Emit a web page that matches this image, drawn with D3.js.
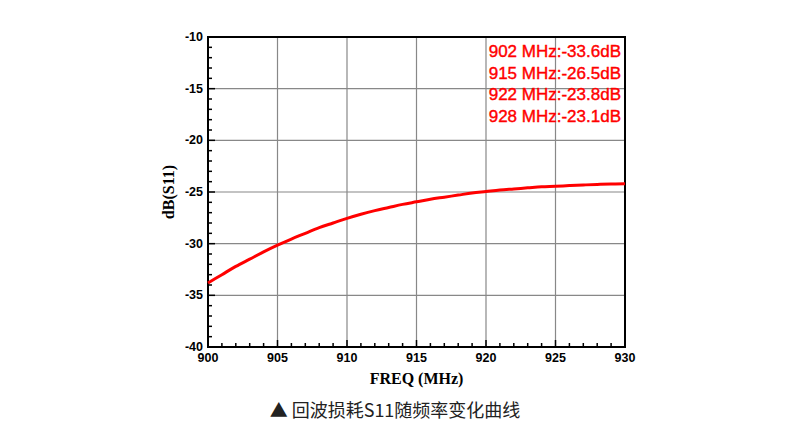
<!DOCTYPE html><html><head><meta charset="utf-8"><script src="https://cdn.jsdelivr.net/npm/d3@7"></script>
<style>body{margin:0;background:#fff}</style></head><body><svg id="c" width="790" height="440"></svg>
<script>
const freqs=[900,901,902,903,904,905,906,907,908,909,910,911,912,913,914,915,916,917,918,919,920,921,922,923,924,925,926,927,928,929,930];
const s11=[-33.8,-33.0,-32.2,-31.5,-30.8,-30.15,-29.55,-29.0,-28.45,-28.0,-27.55,-27.15,-26.8,-26.5,-26.2,-25.95,-25.7,-25.5,-25.3,-25.1,-24.95,-24.8,-24.7,-24.6,-24.5,-24.45,-24.38,-24.32,-24.27,-24.23,-24.2];
const xTicks=[900,905,910,915,920,925,930];
const yTicks=[-10,-15,-20,-25,-30,-35,-40];
const notes=["902 MHz:-33.6dB","915 MHz:-26.5dB","922 MHz:-23.8dB","928 MHz:-23.1dB"];
const svg=d3.select("#c");
const L=208,R=625,T=37,B=347;
const x=d3.scaleLinear().domain([900,930]).range([L,R]);
const y=d3.scaleLinear().domain([-40,-10]).range([B,T]);
const g=svg.append("g");
g.selectAll(".gx").data(xTicks).join("line").attr("x1",d=>x(d)).attr("x2",d=>x(d)).attr("y1",T).attr("y2",B).attr("stroke","#888").attr("stroke-width",1.2);
g.selectAll(".gy").data(yTicks).join("line").attr("y1",d=>y(d)).attr("y2",d=>y(d)).attr("x1",L).attr("x2",R).attr("stroke","#888").attr("stroke-width",1.2);
svg.append("rect").attr("x",L).attr("y",T).attr("width",R-L).attr("height",B-T).attr("fill","none").attr("stroke","#000").attr("stroke-width",2);
svg.append("g").selectAll("line").data(d3.range(900,931)).join("line").attr("x1",d=>x(d)).attr("x2",d=>x(d)).attr("y1",B).attr("y2",d=>B-(d%5===0?7:4)).attr("stroke","#000").attr("stroke-width",1.5);
svg.append("g").selectAll("line").data(d3.range(-40,-9)).join("line").attr("y1",d=>y(d)).attr("y2",d=>y(d)).attr("x1",L).attr("x2",d=>L+(d%5===0?7:4)).attr("stroke","#000").attr("stroke-width",1.5);
const tf="Liberation Sans, Arial, sans-serif";
svg.append("g").selectAll("text").data(xTicks).join("text").attr("x",d=>x(d)).attr("y",B+15).attr("text-anchor","middle").attr("font-family",tf).attr("font-weight","bold").attr("font-size",12.5).text(d=>d);
svg.append("g").selectAll("text").data(yTicks).join("text").attr("x",L-5).attr("y",d=>y(d)+4).attr("text-anchor","end").attr("font-family",tf).attr("font-weight","bold").attr("font-size",12.5).text(d=>d);
svg.append("text").attr("x",(L+R)/2).attr("y",B+37).attr("text-anchor","middle").attr("font-family","Liberation Serif, Times New Roman, serif").attr("font-weight","bold").attr("font-size",16).text("FREQ (MHz)");
svg.append("text").attr("transform",`translate(${L-34},${(T+B)/2}) rotate(-90)`).attr("text-anchor","middle").attr("font-family","Liberation Serif, Times New Roman, serif").attr("font-weight","bold").attr("font-size",16).text("dB(S11)");
svg.append("path").datum(freqs.map((f,i)=>[f,s11[i]])).attr("d",d3.line().x(d=>x(d[0])).y(d=>y(d[1])).curve(d3.curveMonotoneX)).attr("fill","none").attr("stroke","#f00").attr("stroke-width",3);
svg.append("g").selectAll("text").data(notes).join("text").attr("x",621).attr("y",(d,i)=>57+i*21.5).attr("text-anchor","end").attr("fill","#f00").attr("stroke","#f00").attr("stroke-width",0.4).attr("font-family",tf).attr("font-size",17).text(d=>d);
svg.append("text").attr("x",395).attr("y",417).attr("text-anchor","middle").attr("font-family","Noto Sans CJK SC, sans-serif").attr("font-size",18).attr("fill","#222").text("▲ 回波损耗S11随频率变化曲线");
</script></body></html>
